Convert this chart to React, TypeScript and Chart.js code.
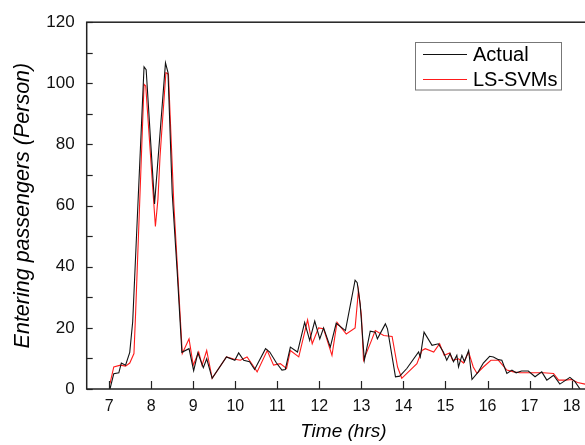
import React, { useEffect, useRef } from "react";
import { Chart, registerables } from "chart.js";

Chart.register(...registerables);

// ---- Data (hours, persons) ----
const actualTime = [
  7.02, 7.11, 7.23, 7.29, 7.39, 7.49, 7.56, 7.83, 7.88, 8.08, 8.34, 8.40, 8.50, 8.62, 8.73,
  8.90, 9.01, 9.11, 9.24, 9.32, 9.45, 9.79, 9.99, 10.08, 10.20, 10.34, 10.46, 10.72, 10.82,
  10.98, 11.11, 11.19, 11.31, 11.48, 11.65, 11.77, 11.89, 12.01, 12.10, 12.26, 12.40, 12.62,
  12.85, 12.90, 12.97, 13.07, 13.21, 13.33, 13.38, 13.57, 13.62, 13.81, 13.91, 14.08, 14.36,
  14.40, 14.49, 14.68, 14.83, 14.95, 15.03, 15.11, 15.19, 15.27, 15.31, 15.39, 15.45, 15.55,
  15.63, 15.78, 15.90, 16.05, 16.14, 16.26, 16.34, 16.46, 16.58, 16.68, 16.81, 16.97, 17.13,
  17.29, 17.41, 17.57, 17.72, 17.96, 18.08, 18.20,
];
const actualValue = [
  0, 5, 5.3, 8.5, 7.8, 12, 22, 105.4, 104.5, 60.5, 106.7, 103.5, 64, 38, 12,
  13.2, 6, 11.8, 7, 9.9, 3.5, 10.5, 9.4, 11.8, 9.4, 8.9, 6.4, 13.2, 12.1,
  8.5, 6.2, 6.4, 13.7, 12.1, 21.8, 15.9, 22.2, 16.4, 20, 13.7, 21.5, 19.1,
  35.6, 34.8, 27.8, 9.4, 18.9, 18.6, 16.4, 21.3, 19.7, 4, 4.2, 6.7, 12.1,
  10.5, 18.6, 14.3, 14.8, 12.1, 9.4, 11.6, 8.9, 11, 7.2, 11, 8.9, 12.6,
  3.1, 5.6, 8.5, 10.7, 10.5, 9.6, 9.4, 5.1, 6.2, 5.3, 5.9, 5.9, 4,
  5.6, 2.9, 4.5, 1.6, 3.8, 2.4, 0,
];

const predTime = [
  7.02, 7.11, 7.27, 7.39, 7.49, 7.59, 7.63, 7.83, 7.87, 8.10, 8.16, 8.21, 8.25, 8.35, 8.41,
  8.54, 8.74, 8.90, 9.00, 9.13, 9.21, 9.32, 9.45, 9.79, 9.96, 10.12, 10.28, 10.40, 10.52,
  10.76, 10.91, 11.07, 11.22, 11.31, 11.51, 11.72, 11.83, 11.98, 12.10, 12.30, 12.42, 12.64,
  12.85, 12.93, 13.00, 13.05, 13.24, 13.33, 13.53, 13.73, 13.86, 13.96, 14.32, 14.44, 14.52,
  14.72, 14.86, 14.97, 15.10, 15.17, 15.31, 15.43, 15.55, 15.66, 15.75, 15.90, 16.08, 16.26,
  16.46, 16.62, 16.77, 17.09, 17.33, 17.57, 17.69, 17.85, 18.00, 18.14, 18.32,
];
const predValue = [
  1.8, 7.2, 7.8, 7.5, 8.5, 11.6, 25, 99.7, 99.1, 53.2, 62, 76, 84, 103.5, 103,
  60, 11.6, 16.4, 7.8, 12.1, 7.8, 12.6, 3.5, 10.5, 9.8, 9.4, 10.5, 8.1, 5.6,
  12.6, 7.8, 8.3, 6.7, 12.6, 10.5, 22.6, 14.8, 20, 19.7, 11, 21.8, 18,
  20, 32.3, 24, 9.4, 15.9, 19.1, 17.5, 17.2, 7.2, 3.5, 8.3, 12.6, 13.2,
  12.1, 14.8, 11, 11.8, 9.4, 9.9, 8.5, 12.1, 7.2, 5.1, 7.2, 9.4, 9.4,
  6.2, 5.6, 5.3, 5.3, 5.3, 5.1, 2.9, 2.9, 3.1, 2.1, 1.6,
];

const seriesNames = ["Actual", "LS-SVMs"];
const seriesColors = ["#111111", "#ff1a1a"];
const xTickValues = [7, 8, 9, 10, 11, 12, 13, 14, 15, 16, 17, 18];
const yTickValues = [0, 10, 20, 30, 40, 50, 60, 70, 80, 90, 100, 110, 120];
const yLabelValues = [0, 20, 40, 60, 80, 100, 120];
const xTitle = "Time (hrs)";
const yTitle = "Entering passengers (Person)";

const FONT = "'Liberation Sans', Arial, sans-serif";

const framePlugin = {
  id: "frame",
  afterDraw(chart: any) {
    const { ctx, chartArea } = chart;
    const { left, right, top, bottom } = chartArea;
    ctx.save();
    ctx.strokeStyle = "#222";
    ctx.lineWidth = 1.5;
    ctx.strokeRect(left, top, right - left, bottom - top);
    ctx.lineWidth = 1.2;
    const xs = chart.scales.x;
    xTickValues.forEach((v) => {
      const px = Math.round(xs.getPixelForValue(v)) + 0.5;
      ctx.beginPath();
      ctx.moveTo(px, bottom);
      ctx.lineTo(px, bottom - 8);
      ctx.stroke();
    });
    const ys = chart.scales.y;
    yTickValues.forEach((v) => {
      const py = Math.round(ys.getPixelForValue(v)) + 0.5;
      ctx.beginPath();
      ctx.moveTo(left, py);
      ctx.lineTo(left + 6, py);
      ctx.stroke();
    });
    // legend
    const bx = 415.5, by = 42.5, bw = 146, bh = 47.5;
    ctx.fillStyle = "#fff";
    ctx.fillRect(bx, by, bw, bh);
    ctx.strokeStyle = "#777";
    ctx.lineWidth = 1;
    ctx.strokeRect(bx, by, bw, bh);
    ctx.font = `20px ${FONT}`;
    ctx.textBaseline = "middle";
    ctx.textAlign = "left";
    seriesNames.forEach((name, i) => {
      const ly = 54.5 + i * 25;
      ctx.strokeStyle = seriesColors[i];
      ctx.beginPath();
      ctx.moveTo(423, ly);
      ctx.lineTo(467, ly);
      ctx.stroke();
      ctx.fillStyle = "#000";
      ctx.fillText(name, 473, ly + 1);
    });
    ctx.restore();
  },
};

export default function App() {
  const ref = useRef<HTMLCanvasElement | null>(null);
  useEffect(() => {
    if (!ref.current) return;
    const chart = new Chart(ref.current, {
      type: "line",
      data: {
        datasets: [
          {
            label: seriesNames[0],
            data: actualTime.map((t, i) => ({ x: t, y: actualValue[i] })),
            borderColor: seriesColors[0],
            borderWidth: 1.1,
            pointRadius: 0,
            tension: 0,
          },
          {
            label: seriesNames[1],
            data: predTime.map((t, i) => ({ x: t, y: predValue[i] })),
            borderColor: seriesColors[1],
            borderWidth: 1.1,
            pointRadius: 0,
            tension: 0,
          },
        ],
      },
      plugins: [framePlugin],
      options: {
        animation: false,
        responsive: false,
        devicePixelRatio: 1,
        layout: { padding: { left: 0, right: 0, top: 19, bottom: 0 } },
        plugins: { legend: { display: false }, tooltip: { enabled: false } },
        scales: {
          x: {
            type: "linear",
            min: 6.466,
            max: 18.675,
            afterFit: (s: any) => {
              s.height = 56;
            },
            afterBuildTicks: (s: any) => {
              s.ticks = xTickValues.map((v) => ({ value: v }));
            },
            grid: { display: false, drawTicks: false },
            border: { display: false },
            ticks: {
              padding: 8,
              color: "#111",
              font: { family: FONT, size: 16 },
              maxRotation: 0,
              autoSkip: false,
            },
            title: {
              display: true,
              text: xTitle,
              color: "#000",
              font: { family: FONT, size: 19, style: "italic" },
              padding: { top: 0, bottom: 2 },
            },
          },
          y: {
            min: 0,
            max: 120,
            afterFit: (s: any) => {
              s.width = 86.7;
            },
            afterBuildTicks: (s: any) => {
              s.ticks = yLabelValues.map((v) => ({ value: v }));
            },
            grid: { display: false, drawTicks: false },
            border: { display: false },
            ticks: {
              padding: 12,
              color: "#111",
              font: { family: FONT, size: 17 },
              autoSkip: false,
            },
            title: {
              display: true,
              text: yTitle,
              color: "#000",
              font: { family: FONT, size: 21.5, style: "italic" },
              padding: { top: 10, bottom: 0 },
            },
          },
        },
      },
    });
    return () => chart.destroy();
  }, []);
  return (
    <div style={{ position: "fixed", left: 0, top: 0, width: 585, height: 445, overflow: "hidden", background: "#fff" }}>
      <canvas ref={ref} width={600} height={445} style={{ display: "block", width: 600, height: 445 }} />
    </div>
  );
}
